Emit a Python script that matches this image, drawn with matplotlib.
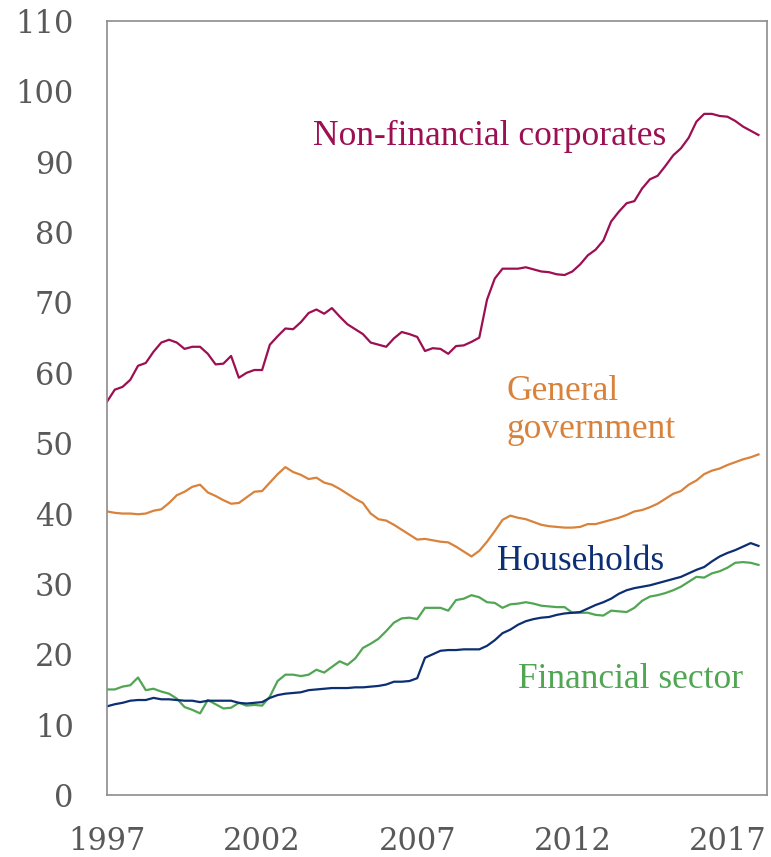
import numpy as np
import pandas as pd
import matplotlib
matplotlib.use('Agg')
import matplotlib.pyplot as plt


quarters = pd.period_range('1997Q1', '2018Q1', freq='Q')

non_financial = [
    55.9, 57.6, 58.0, 59.0, 61.0, 61.4, 63.0, 64.3, 64.7, 64.3,
    63.4, 63.7, 63.7, 62.7, 61.2, 61.3, 62.4, 59.3, 60.0, 60.4,
    60.4, 64.0, 65.2, 66.3, 66.2, 67.2, 68.5, 69.0, 68.4, 69.2,
    68.0, 66.9, 66.2, 65.5, 64.3, 64.0, 63.7, 64.9, 65.8, 65.5,
    65.1, 63.1, 63.5, 63.4, 62.7, 63.8, 63.9, 64.4, 65.0, 70.4,
    73.4, 74.8, 74.8, 74.8, 75.0, 74.7, 74.4, 74.3, 74.0, 73.9,
    74.4, 75.4, 76.7, 77.5, 78.8, 81.5, 82.9, 84.1, 84.4, 86.2,
    87.5, 88.0, 89.4, 90.9, 91.9, 93.4, 95.7, 96.8, 96.8, 96.5,
    96.4, 95.8, 95.0, 94.4, 93.8]

government = [
    40.3, 40.1, 40.0, 40.0, 39.9, 40.0, 40.4, 40.6, 41.5, 42.6,
    43.1, 43.8, 44.1, 43.0, 42.5, 41.9, 41.4, 41.5, 42.3, 43.1,
    43.2, 44.4, 45.6, 46.6, 45.9, 45.5, 44.9, 45.1, 44.4, 44.1,
    43.5, 42.8, 42.1, 41.5, 40.0, 39.2, 39.0, 38.4, 37.7, 37.0,
    36.3, 36.4, 36.2, 36.0, 35.9, 35.3, 34.6, 33.9, 34.7, 36.0,
    37.5, 39.1, 39.7, 39.4, 39.2, 38.8, 38.4, 38.2, 38.1, 38.0,
    38.0, 38.1, 38.5, 38.5, 38.8, 39.1, 39.4, 39.8, 40.3, 40.5,
    40.9, 41.4, 42.1, 42.8, 43.2, 44.1, 44.7, 45.6, 46.1, 46.4,
    46.9, 47.3, 47.7, 48.0, 48.4]

households = [
    12.6, 12.9, 13.1, 13.4, 13.5, 13.5, 13.8, 13.6, 13.6, 13.5,
    13.4, 13.4, 13.2, 13.4, 13.4, 13.4, 13.4, 13.1, 13.0, 13.1,
    13.2, 13.8, 14.2, 14.4, 14.5, 14.6, 14.9, 15.0, 15.1, 15.2,
    15.2, 15.2, 15.3, 15.3, 15.4, 15.5, 15.7, 16.1, 16.1, 16.2,
    16.6, 19.5, 20.0, 20.5, 20.6, 20.6, 20.7, 20.7, 20.7, 21.2,
    22.0, 23.0, 23.5, 24.2, 24.7, 25.0, 25.2, 25.3, 25.6, 25.8,
    25.9, 26.0, 26.5, 27.0, 27.4, 27.9, 28.6, 29.1, 29.4, 29.6,
    29.8, 30.1, 30.4, 30.7, 31.0, 31.5, 32.0, 32.4, 33.2, 33.9,
    34.4, 34.8, 35.3, 35.8, 35.4]

financial = [
    15.0, 15.0, 15.4, 15.6, 16.7, 14.9, 15.1, 14.7, 14.4, 13.7,
    12.5, 12.1, 11.6, 13.5, 12.9, 12.3, 12.4, 13.1, 12.7, 12.8,
    12.7, 14.0, 16.2, 17.1, 17.1, 16.9, 17.1, 17.8, 17.4, 18.2,
    19.0, 18.5, 19.4, 20.9, 21.5, 22.2, 23.3, 24.5, 25.1, 25.2,
    25.0, 26.6, 26.6, 26.6, 26.2, 27.7, 27.9, 28.4, 28.1, 27.4,
    27.3, 26.6, 27.1, 27.2, 27.4, 27.2, 26.9, 26.8, 26.7, 26.7,
    25.9, 25.9, 25.9, 25.6, 25.5, 26.2, 26.1, 26.0, 26.6, 27.6,
    28.2, 28.4, 28.7, 29.1, 29.6, 30.3, 31.0, 30.9, 31.5, 31.8,
    32.3, 33.0, 33.1, 33.0, 32.7]

label_years = [1997, 2002, 2007, 2012, 2017]

c_nfc = '#9c0f52'
c_gov = '#d9823b'
c_hh = '#0c2e72'
c_fin = '#50a653'
grey = '#595959'

plt.rcParams['font.family'] = ['DejaVu Serif']

fig = plt.figure(figsize=(7.71, 8.57), dpi=100)
ax = fig.add_axes([107/771, 1 - 795/857, 660/771, 774/857])

x = np.arange(len(quarters))
ax.plot(x, non_financial, color=c_nfc, lw=1.6)
ax.plot(x, government, color=c_gov, lw=1.6)
ax.plot(x, financial, color=c_fin, lw=1.6)
ax.plot(x, households, color=c_hh, lw=1.6)

ax.set_xlim(0, 85.1)
ax.set_ylim(0, 110)
ax.set_yticks(np.arange(0, 111, 10))
xt = [i for i, q in enumerate(quarters) if q.quarter == 1 and q.year in label_years]
ax.set_xticks(xt)
ax.set_xticklabels([str(quarters[i].year) for i in xt])
ax.tick_params(length=0, labelsize=22, labelcolor=grey)
ax.tick_params(axis='y', pad=24)
ax.tick_params(axis='x', pad=22)
for s in ax.spines.values():
    s.set_color('#8c8c8c')
    s.set_linewidth(1.2)

lab = dict(transform=ax.transAxes, fontsize=25.5, family='Liberation Serif',
           va='baseline')
ax.text(0.312, 0.840, 'Non-financial corporates', color=c_nfc, **lab)
ax.text(0.606, 0.510, 'General', color=c_gov, **lab)
ax.text(0.606, 0.461, 'government', color=c_gov, **lab)
ax.text(0.591, 0.291, 'Households', color=c_hh, **lab)
ax.text(0.623, 0.138, 'Financial sector', color=c_fin, **lab)

fig.savefig('out.png', dpi=100)
